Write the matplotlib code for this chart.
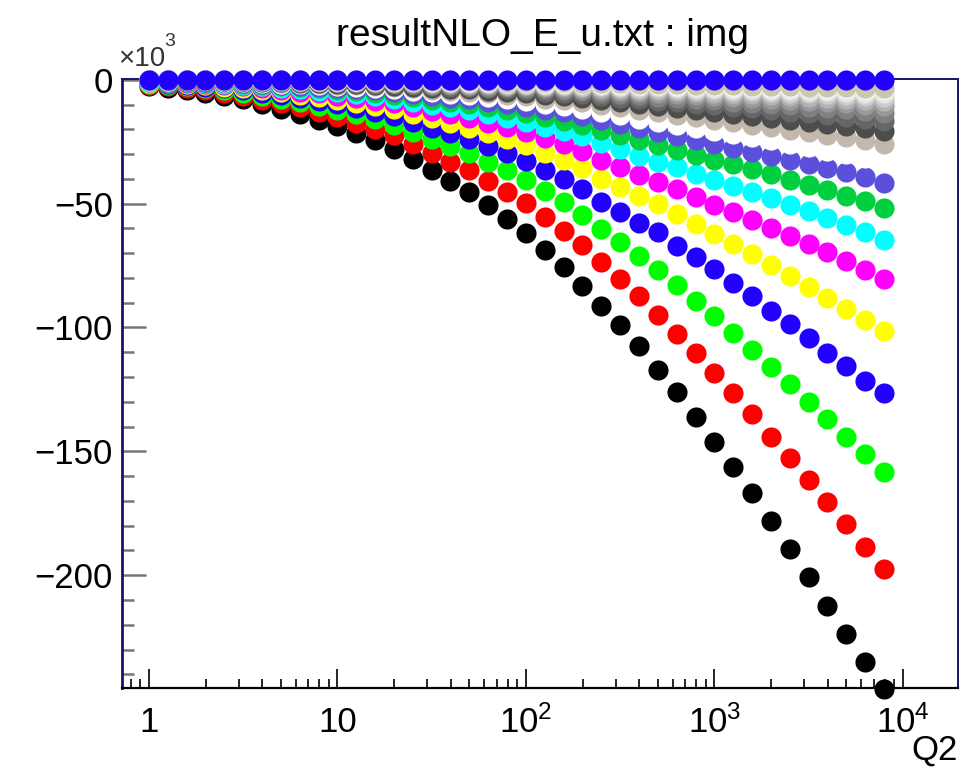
import matplotlib
matplotlib.use("Agg")
import matplotlib.pyplot as plt
from matplotlib.ticker import FixedLocator, FixedFormatter, LogLocator, NullFormatter, MultipleLocator

plt.rcParams['font.family'] = ['Liberation Sans', 'DejaVu Sans']
plt.rcParams['mathtext.fontset'] = 'custom'
plt.rcParams['mathtext.rm'] = 'Liberation Sans'
plt.rcParams['mathtext.it'] = 'Liberation Sans'

# Q2 grid (10 points per decade)
q2 = [1.0, 1.259, 1.585, 1.995, 2.512, 3.162, 3.981, 5.012, 6.31, 7.943,
      10.0, 12.59, 15.85, 19.95, 25.12, 31.62, 39.81, 50.12, 63.1, 79.43,
      100.0, 125.9, 158.5, 199.5, 251.2, 316.2, 398.1, 501.2, 631.0, 794.3,
      1000.0, 1259.0, 1585.0, 1995.0, 2512.0, 3162.0, 3981.0, 5012.0, 6310.0, 7943.0]

# values in units of 10^3, one list per curve (ROOT colour index in the name)
c1_black = [-2.7, -3.4, -4.1, -5.2, -6.6, -7.9, -9.9, -11.7, -13.9, -16.2,
            -18.8, -21.5, -24.5, -27.8, -32.0, -36.5, -41.0, -45.5, -50.6, -56.2,
            -61.7, -68.8, -75.7, -83.1, -91.3, -99.0, -107.5, -117.2, -126.1, -136.2,
            -146.3, -156.4, -167.0, -178.0, -189.3, -200.8, -212.3, -223.8, -235.0, -246.0]
c2_red = [-2.2, -2.7, -3.3, -4.2, -5.3, -6.4, -8.0, -9.4, -11.2, -13.0,
          -15.1, -17.3, -19.7, -22.4, -25.8, -29.4, -33.0, -36.6, -40.7, -45.2,
          -49.7, -55.4, -60.9, -66.9, -73.7, -80.4, -87.4, -95.0, -102.7, -110.1,
          -118.2, -126.3, -135.0, -144.0, -152.5, -161.7, -170.5, -179.5, -188.7, -197.5]
c3_green = [-1.8, -2.2, -2.7, -3.4, -4.3, -5.2, -6.5, -7.6, -9.1, -10.5,
            -12.2, -14.0, -16.0, -18.1, -20.9, -23.8, -26.7, -29.6, -33.0, -36.6,
            -40.3, -44.9, -49.3, -54.5, -60.2, -65.4, -71.0, -76.7, -82.9, -89.2,
            -95.5, -102.3, -109.0, -115.9, -122.9, -129.9, -137.0, -144.0, -151.2, -158.3]
c4_blue = [-1.5, -1.8, -2.2, -2.8, -3.5, -4.2, -5.3, -6.2, -7.4, -8.5,
           -9.9, -11.3, -13.0, -14.7, -16.9, -19.3, -21.6, -24.0, -26.7, -29.6,
           -32.6, -36.4, -39.9, -44.1, -49.3, -53.5, -57.8, -61.6, -67.0, -71.7,
           -76.4, -82.1, -87.4, -93.3, -98.6, -104.4, -110.4, -115.5, -121.5, -126.5]
c5_yellow = [-1.2, -1.5, -1.8, -2.3, -2.8, -3.4, -4.3, -5.0, -6.0, -6.9,
             -8.0, -9.2, -10.5, -11.9, -13.7, -15.6, -17.5, -19.4, -21.6, -24.0,
             -26.4, -29.5, -32.3, -35.7, -39.9, -43.3, -46.8, -50.0, -54.2, -58.2,
             -62.2, -66.3, -70.3, -74.8, -79.3, -83.8, -88.2, -92.6, -96.9, -101.6]
c6_magenta = [-1.0, -1.2, -1.4, -1.8, -2.2, -2.7, -3.4, -4.0, -4.8, -5.5,
              -6.4, -7.4, -8.4, -9.5, -11.0, -12.5, -14.0, -15.5, -17.3, -19.2,
              -21.1, -23.6, -25.8, -28.6, -32.2, -35.3, -38.3, -41.2, -44.3, -47.4,
              -50.5, -53.5, -56.6, -59.8, -63.0, -66.3, -69.7, -73.1, -76.7, -80.4]
c7_cyan = [-0.8, -1.0, -1.1, -1.4, -1.8, -2.2, -2.7, -3.2, -3.8, -4.4,
           -5.1, -5.9, -6.7, -7.6, -8.8, -10.0, -11.2, -12.4, -13.8, -15.4,
           -16.9, -18.9, -20.6, -22.9, -25.5, -28.0, -30.6, -33.0, -35.4, -37.9,
           -40.4, -42.8, -45.3, -47.8, -50.4, -53.0, -55.8, -58.5, -61.4, -64.5]
c8_green = [-0.6, -0.8, -0.9, -1.1, -1.4, -1.8, -2.2, -2.6, -3.0, -3.5,
            -4.1, -4.7, -5.4, -6.1, -7.0, -8.0, -9.0, -9.9, -11.0, -12.3,
            -13.5, -15.1, -16.5, -18.3, -20.4, -22.4, -24.5, -26.4, -28.3, -30.3,
            -32.3, -34.2, -36.2, -38.2, -40.3, -42.4, -44.6, -46.8, -49.1, -51.8]
c9_slate = [-0.5, -0.6, -0.7, -0.9, -1.1, -1.4, -1.8, -2.1, -2.4, -2.8,
            -3.3, -3.8, -4.3, -4.9, -5.6, -6.4, -7.2, -7.9, -8.8, -9.8,
            -10.8, -12.1, -13.2, -14.6, -16.3, -17.9, -19.6, -21.1, -22.6, -24.2,
            -25.8, -27.4, -29.0, -30.6, -32.2, -33.9, -35.7, -37.4, -39.3, -41.5]
c10_white = [-0.4, -0.5, -0.6, -0.7, -0.9, -1.1, -1.4, -1.7, -1.9, -2.2,
             -2.6, -3.0, -3.4, -3.9, -4.5, -5.1, -5.8, -6.3, -7.0, -7.8,
             -8.6, -9.7, -10.6, -11.7, -13.0, -14.3, -15.7, -16.9, -18.1, -19.4,
             -20.6, -21.9, -23.2, -24.5, -25.8, -27.1, -28.6, -29.9, -31.4, -33.2]
c11_beige = [-0.3, -0.4, -0.5, -0.6, -0.7, -0.9, -1.1, -1.3, -1.5, -1.7,
             -2.0, -2.3, -2.7, -3.0, -3.5, -4.0, -4.5, -4.9, -5.5, -6.1,
             -6.7, -7.6, -8.3, -9.1, -10.1, -11.2, -12.2, -13.2, -14.1, -15.1,
             -16.1, -17.1, -18.1, -19.1, -20.1, -21.1, -22.3, -23.3, -24.5, -25.9]
c12_grey = [-0.2, -0.3, -0.4, -0.5, -0.6, -0.7, -0.9, -1.0, -1.2, -1.4,
            -1.6, -1.8, -2.2, -2.4, -2.8, -3.2, -3.6, -3.9, -4.4, -4.9,
            -5.4, -6.1, -6.6, -7.3, -8.1, -9.0, -9.8, -10.6, -11.3, -12.1,
            -12.9, -13.7, -14.5, -15.3, -16.1, -16.9, -17.8, -18.6, -19.6, -20.7]
c13_grey = [-0.2, -0.2, -0.3, -0.4, -0.5, -0.6, -0.7, -0.8, -1.0, -1.1,
            -1.3, -1.4, -1.8, -1.9, -2.2, -2.6, -2.9, -3.1, -3.5, -3.9,
            -4.3, -4.9, -5.3, -5.8, -6.5, -7.2, -7.8, -8.5, -9.0, -9.7,
            -10.3, -11.0, -11.6, -12.2, -12.9, -13.5, -14.2, -14.9, -15.7, -16.6]
c14_grey = [-0.1, -0.2, -0.2, -0.3, -0.4, -0.5, -0.6, -0.6, -0.8, -0.9,
            -1.0, -1.1, -1.4, -1.5, -1.8, -2.1, -2.3, -2.5, -2.8, -3.1,
            -3.4, -3.9, -4.2, -4.6, -5.2, -5.8, -6.2, -6.8, -7.2, -7.8,
            -8.2, -8.8, -9.3, -9.8, -10.3, -10.8, -11.4, -11.9, -12.6, -13.3]
c15_grey = [-0.1, -0.1, -0.2, -0.2, -0.3, -0.4, -0.5, -0.5, -0.6, -0.7,
            -0.8, -0.9, -1.1, -1.2, -1.4, -1.7, -1.8, -2.0, -2.2, -2.5,
            -2.7, -3.1, -3.4, -3.7, -4.2, -4.6, -5.0, -5.4, -5.8, -6.2,
            -6.6, -7.0, -7.4, -7.8, -8.2, -8.6, -9.1, -9.5, -10.1, -10.6]
c16_grey = [-0.1, -0.1, -0.1, -0.2, -0.2, -0.3, -0.4, -0.4, -0.5, -0.6,
            -0.6, -0.7, -0.9, -1.0, -1.1, -1.4, -1.4, -1.6, -1.8, -2.0,
            -2.2, -2.5, -2.7, -3.0, -3.4, -3.7, -4.0, -4.3, -4.6, -5.0,
            -5.3, -5.6, -5.9, -6.2, -6.6, -6.9, -7.3, -7.6, -8.1, -8.5]
c17_grey = [-0.1, -0.1, -0.1, -0.1, -0.2, -0.2, -0.3, -0.3, -0.4, -0.5,
            -0.5, -0.6, -0.7, -0.8, -0.9, -1.1, -1.1, -1.3, -1.4, -1.6,
            -1.8, -2.0, -2.2, -2.4, -2.7, -3.0, -3.2, -3.4, -3.7, -4.0,
            -4.2, -4.5, -4.7, -5.0, -5.3, -5.5, -5.8, -6.1, -6.5, -6.8]
c18_grey = [-0.1, -0.1, -0.1, -0.1, -0.1, -0.2, -0.2, -0.3, -0.3, -0.4,
            -0.4, -0.5, -0.6, -0.6, -0.7, -0.9, -0.9, -1.0, -1.1, -1.3,
            -1.4, -1.6, -1.8, -1.9, -2.2, -2.4, -2.6, -2.7, -3.0, -3.2,
            -3.4, -3.6, -3.8, -4.0, -4.2, -4.4, -4.6, -4.9, -5.2, -5.4]
c19_grey = [-0.1, -0.1, -0.1, -0.1, -0.1, -0.2, -0.2, -0.2, -0.2, -0.3,
            -0.3, -0.4, -0.5, -0.5, -0.6, -0.7, -0.7, -0.8, -0.9, -1.0,
            -1.1, -1.3, -1.4, -1.5, -1.8, -1.9, -2.1, -2.2, -2.4, -2.6,
            -2.7, -2.9, -3.0, -3.2, -3.4, -3.5, -3.7, -3.9, -4.2, -4.3]
c20_beige = [0.0, -0.1, -0.1, -0.1, -0.1, -0.2, -0.2, -0.2, -0.2, -0.2,
             -0.2, -0.3, -0.4, -0.4, -0.5, -0.6, -0.6, -0.6, -0.7, -0.8,
             -0.9, -1.0, -1.1, -1.2, -1.4, -1.5, -1.7, -1.8, -1.9, -2.1,
             -2.2, -2.3, -2.4, -2.6, -2.7, -2.8, -3.0, -3.1, -3.4, -3.5]
top_blue = [0.0] * 40

curves = [c1_black, c2_red, c3_green, c4_blue, c5_yellow, c6_magenta, c7_cyan,
          c8_green, c9_slate, c10_white, c11_beige, c12_grey, c13_grey, c14_grey,
          c15_grey, c16_grey, c17_grey, c18_grey, c19_grey, c20_beige, top_blue]
colors = ['#000000', '#ff0000', '#00ff00', '#2200ff', '#ffff00', '#ff00ff', '#00ffff',
          '#00d040', '#5a50dc', '#ffffff', '#c2b8ac', '#4d4d4d', '#666666', '#808080',
          '#999999', '#b3b3b3', '#cccccc', '#e6e6e6', '#f2f2f2', '#ccc7ab', '#2200ff']

xtick_pos = [1, 10, 100, 1000, 10000]
xtick_labels = ['1', '10', r'$10^{2}$', r'$10^{3}$', r'$10^{4}$']
ytick_pos = [0, -50, -100, -150, -200]

fig = plt.figure(figsize=(9.65, 7.73), dpi=100)
ax = fig.add_axes([0.1264, 0.110, 0.8663, 0.7878])

for vals, col in zip(curves, colors):
    ax.scatter(q2, vals, s=210, c=col, linewidths=0, zorder=3, clip_on=False)

ax.set_xscale('log')
ax.set_xlim(0.72, 19600)
ax.set_ylim(-245.5, 0.3)

ax.xaxis.set_major_locator(FixedLocator(xtick_pos))
ax.xaxis.set_major_formatter(FixedFormatter(xtick_labels))
ax.xaxis.set_minor_locator(LogLocator(base=10, subs=range(2, 10), numticks=20))
ax.xaxis.set_minor_formatter(NullFormatter())
ax.yaxis.set_major_locator(FixedLocator(ytick_pos))
ax.yaxis.set_minor_locator(MultipleLocator(10))

ax.tick_params(axis='x', which='major', direction='in', length=13.5, width=1.2,
               color='black', labelsize=25, pad=32)
ax.tick_params(axis='x', which='minor', direction='in', length=6.5, width=1.2, color='black')
ax.tick_params(axis='y', which='major', direction='in', length=17, width=1.8,
               color='#777777', labelsize=25, pad=6.5)
ax.tick_params(axis='y', which='minor', direction='in', length=8.5, width=1.8, color='#777777')
for lab in ax.get_xticklabels():
    lab.set_verticalalignment('baseline')

for side in ['left', 'top', 'right']:
    ax.spines[side].set_color('#14146e')
ax.spines['left'].set_linewidth(2.0)
ax.spines['top'].set_linewidth(1.4)
ax.spines['right'].set_linewidth(1.4)
ax.spines['bottom'].set_linewidth(1.6)
ax.spines['bottom'].set_color('black')

ax.text(-0.005, 1.012, '×10', transform=ax.transAxes, fontsize=20,
        ha='left', va='bottom', color='#333333')
ax.text(0.050, 1.048, '3', transform=ax.transAxes, fontsize=14,
        ha='left', va='bottom', color='#333333')

fig.text(542 / 965, 1 - 36 / 773, 'resultNLO_E_u.txt : img', fontsize=28,
         ha='center', va='center')
fig.text(958 / 965, 1 - 750 / 773, 'Q2', fontsize=25, ha='right', va='center')

fig.savefig('out.png', dpi=100)
